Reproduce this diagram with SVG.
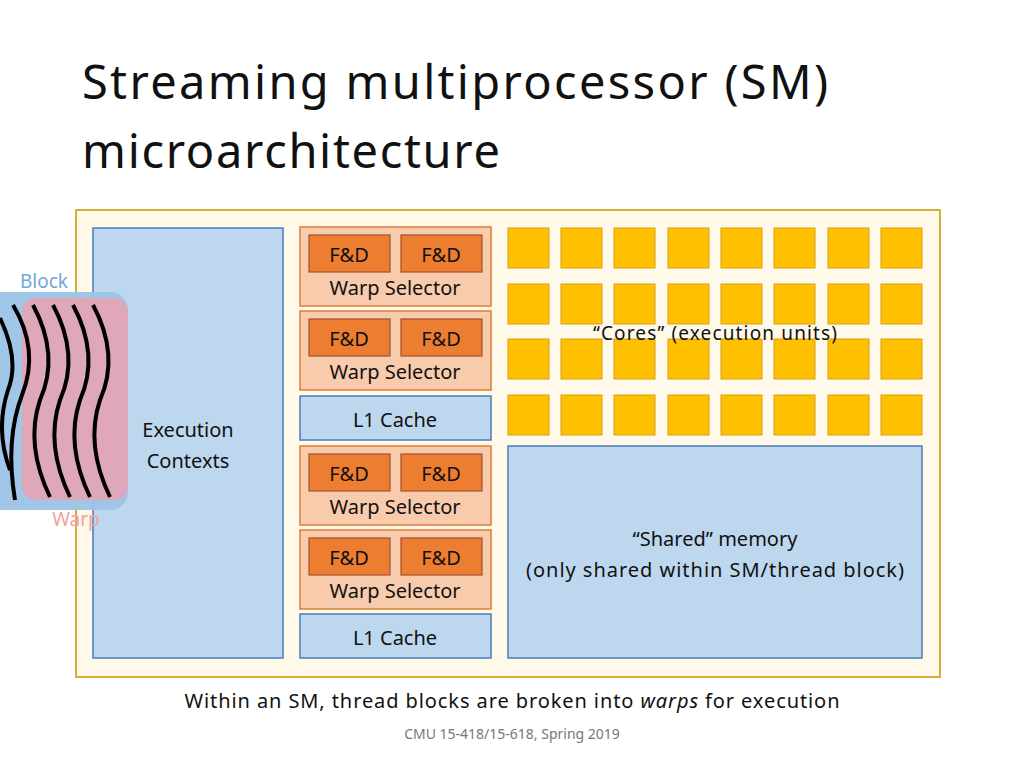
<svg xmlns="http://www.w3.org/2000/svg" width="1024" height="768" viewBox="0 0 1024 768">
<style>
text{font-family:"Noto Sans","Liberation Sans",sans-serif;fill:#111}
.ws{fill:#F8CBAD;stroke:#E07B39;stroke-width:1.5}
.fd{fill:#ED7D31;stroke:#A0522D;stroke-width:1.2}
.bl{fill:#BDD7EE;stroke:#4A7EBB;stroke-width:1.5}
.core{fill:#FFC000;stroke:#D4A017;stroke-width:1}
.t{font-size:20px;text-anchor:middle}
.th{fill:none;stroke:#000;stroke-width:4}
</style>
<rect width="1024" height="768" fill="#fff"/>
<text x="82" y="99" style="font-size:47px" textLength="746" lengthAdjust="spacing">Streaming multiprocessor (SM)</text>
<text x="82" y="168" style="font-size:47px" textLength="418" lengthAdjust="spacing">microarchitecture</text>
<rect x="76" y="210" width="864" height="467" fill="#FFF9EA" stroke="#D4B03A" stroke-width="2"/>
<g id="exec"><rect class="bl" x="93" y="228" width="190" height="430"/>
<text class="t" x="188" y="437">Execution</text><text class="t" x="188" y="468">Contexts</text></g>
<g id="ws1"><rect class="ws" x="300" y="227" width="191" height="79"/><rect class="fd" x="309" y="235" width="81" height="37"/><rect class="fd" x="401" y="235" width="81" height="37"/>
<text class="t" x="349" y="262">F&amp;D</text><text class="t" x="441" y="262">F&amp;D</text><text class="t" x="395" y="295">Warp Selector</text></g>
<g id="ws2"><rect class="ws" x="300" y="311" width="191" height="79"/><rect class="fd" x="309" y="319" width="81" height="37"/><rect class="fd" x="401" y="319" width="81" height="37"/>
<text class="t" x="349" y="346">F&amp;D</text><text class="t" x="441" y="346">F&amp;D</text><text class="t" x="395" y="379">Warp Selector</text></g>
<g id="l1a"><rect class="bl" x="300" y="396" width="191" height="44"/><text class="t" x="395" y="427">L1 Cache</text></g>
<g id="ws3"><rect class="ws" x="300" y="446" width="191" height="79"/><rect class="fd" x="309" y="454" width="81" height="37"/><rect class="fd" x="401" y="454" width="81" height="37"/>
<text class="t" x="349" y="481">F&amp;D</text><text class="t" x="441" y="481">F&amp;D</text><text class="t" x="395" y="514">Warp Selector</text></g>
<g id="ws4"><rect class="ws" x="300" y="530" width="191" height="79"/><rect class="fd" x="309" y="538" width="81" height="37"/><rect class="fd" x="401" y="538" width="81" height="37"/>
<text class="t" x="349" y="565">F&amp;D</text><text class="t" x="441" y="565">F&amp;D</text><text class="t" x="395" y="598">Warp Selector</text></g>
<g id="l1b"><rect class="bl" x="300" y="614" width="191" height="44"/><text class="t" x="395" y="645">L1 Cache</text></g>
<g id="cores">
<g class="core">
<rect x="508" y="228" width="41" height="40"/><rect x="561" y="228" width="41" height="40"/><rect x="614" y="228" width="41" height="40"/><rect x="668" y="228" width="41" height="40"/><rect x="721" y="228" width="41" height="40"/><rect x="774" y="228" width="41" height="40"/><rect x="828" y="228" width="41" height="40"/><rect x="881" y="228" width="41" height="40"/>
<rect x="508" y="284" width="41" height="40"/><rect x="561" y="284" width="41" height="40"/><rect x="614" y="284" width="41" height="40"/><rect x="668" y="284" width="41" height="40"/><rect x="721" y="284" width="41" height="40"/><rect x="774" y="284" width="41" height="40"/><rect x="828" y="284" width="41" height="40"/><rect x="881" y="284" width="41" height="40"/>
<rect x="508" y="339" width="41" height="40"/><rect x="561" y="339" width="41" height="40"/><rect x="614" y="339" width="41" height="40"/><rect x="668" y="339" width="41" height="40"/><rect x="721" y="339" width="41" height="40"/><rect x="774" y="339" width="41" height="40"/><rect x="828" y="339" width="41" height="40"/><rect x="881" y="339" width="41" height="40"/>
<rect x="508" y="395" width="41" height="40"/><rect x="561" y="395" width="41" height="40"/><rect x="614" y="395" width="41" height="40"/><rect x="668" y="395" width="41" height="40"/><rect x="721" y="395" width="41" height="40"/><rect x="774" y="395" width="41" height="40"/><rect x="828" y="395" width="41" height="40"/><rect x="881" y="395" width="41" height="40"/>
</g>
<text x="715" y="340" style="font-size:19px;text-anchor:middle" textLength="244" lengthAdjust="spacing">“Cores” (execution units)</text></g>
<g id="shared"><rect class="bl" x="508" y="446" width="414" height="212"/>
<text class="t" x="715" y="546">“Shared” memory</text><text class="t" x="715" y="577" textLength="378" lengthAdjust="spacing">(only shared within SM/thread block)</text></g>
<g id="block">
<rect x="-20" y="292" width="148" height="218" rx="18" fill="#9DC3E6" opacity="0.95"/>
<rect x="22" y="298" width="106" height="202" rx="14" fill="#E6A4B4" opacity="0.9"/>
<path class="th" d="M0 318 Q20 360 8 390 Q-5 430 10 470"/>
<path class="th" d="M13 305 Q40 350 22 395 Q5 440 15 500"/>
<path class="th" d="M33 305 Q60 355 40 400 Q25 445 50 497"/>
<path class="th" d="M53 305 Q80 355 60 400 Q45 445 70 497"/>
<path class="th" d="M73 305 Q100 355 80 400 Q65 445 90 497"/>
<path class="th" d="M93 305 Q120 355 100 400 Q85 445 110 497"/>
<text x="44" y="288" style="font-size:19px;text-anchor:middle;fill:#6FA8DC">Block</text>
<text x="76" y="526" style="font-size:19px;text-anchor:middle;fill:#F4A0A0">Warp</text>
</g>
<text x="512" y="708" style="font-size:20px;text-anchor:middle" textLength="655" lengthAdjust="spacing">Within an SM, thread blocks are broken into <tspan font-style="italic">warps</tspan> for execution</text>
<text x="512" y="739" style="font-size:14px;text-anchor:middle;fill:#777">CMU 15-418/15-618, Spring 2019</text>
</svg>
